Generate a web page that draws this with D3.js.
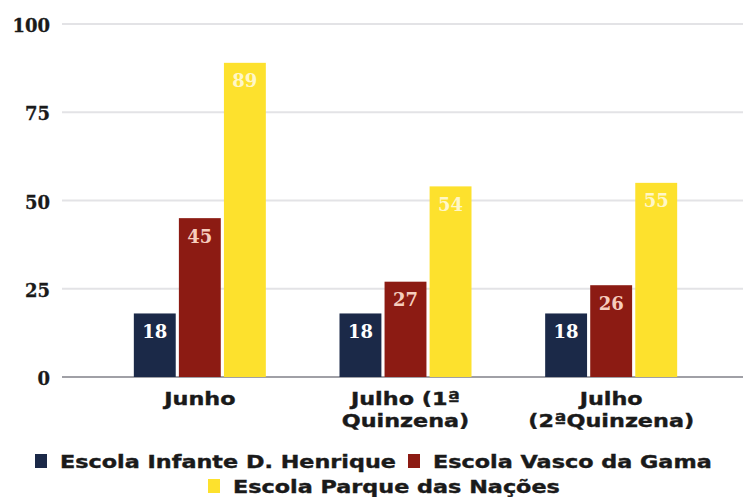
<!DOCTYPE html>
<html><head><meta charset="utf-8">
<script src="https://cdn.jsdelivr.net/npm/d3@7"></script>
<style>body{margin:0;background:#fff}svg{display:block}</style>
</head><body>
<script>
const categories = [["Junho"], ["Julho (1ª", "Quinzena)"], ["Julho", "(2ªQuinzena)"]];
const series = ["Escola Infante D. Henrique", "Escola Vasco da Gama", "Escola Parque das Nações"];
const henrique = [18, 18, 18];
const vasco = [45, 27, 26];
const parque = [89, 54, 55];
const yTicks = [0, 25, 50, 75, 100];
const colors = ["#1b2948", "#8c1b13", "#fde12d"];
const labelColors = ["#ffffff", "#f6cdbd", "#fff7c8"];

const W = 743, H = 497;
const STRETCH = 1.24;
const svg = d3.select("body").append("svg").attr("width", W).attr("height", H);
const values = [henrique, vasco, parque];
const catIdx = d3.range(categories.length);

const y = d3.scaleLinear().domain([0, 100]).range([377, 24]);
const x0 = d3.scaleBand().domain(catIdx).range([97, 714]).paddingInner(0).paddingOuter(0);
const innerW = 132;
const x1 = d3.scaleBand().domain(d3.range(series.length)).range([0, innerW]).paddingInner(0.07);

// grid
svg.append("g").selectAll("line").data(yTicks.filter(d => d > 0)).join("line")
  .attr("x1", 62).attr("x2", W).attr("y1", d => y(d)).attr("y2", d => y(d))
  .attr("stroke", "#e3e3e6").attr("stroke-width", 2);
svg.append("line").attr("x1", 62).attr("x2", W).attr("y1", y(0)).attr("y2", y(0))
  .attr("stroke", "#a0a0a6").attr("stroke-width", 2);

// y labels
svg.append("g").selectAll("text").data(yTicks).join("text")
  .attr("x", 50).attr("y", d => y(d) + 8).attr("text-anchor", "end")
  .attr("font-family", "DejaVu Serif").attr("font-weight", "bold").attr("font-size", 18)
  .attr("fill", "#1a1a1a").attr("stroke", "#1a1a1a").attr("stroke-width", 0.3).text(d => d);

// bars
const groups = svg.append("g").selectAll("g").data(catIdx).join("g")
  .attr("transform", i => `translate(${x0(i) + (x0.bandwidth() - innerW) / 2},0)`);
groups.selectAll("rect").data(i => values.map((v, s) => ({s, v: v[i]}))).join("rect")
  .attr("x", d => x1(d.s)).attr("width", x1.bandwidth())
  .attr("y", d => y(d.v)).attr("height", d => y(0) - y(d.v))
  .attr("fill", d => colors[d.s]);
groups.selectAll("text").data(i => values.map((v, s) => ({s, v: v[i]}))).join("text")
  .attr("x", d => x1(d.s) + x1.bandwidth() / 2).attr("y", d => y(d.v) + 24.5)
  .attr("text-anchor", "middle").attr("font-family", "DejaVu Serif").attr("font-weight", "bold")
  .attr("font-size", 18).attr("fill", d => labelColors[d.s]).text(d => d.v);

// category labels
const catLines = [];
catIdx.forEach(i => categories[i].forEach((t, k) => catLines.push({i, k, t})));
svg.append("g").selectAll("text").data(catLines).join("text")
  .attr("transform", d => `translate(${x0(d.i) + x0.bandwidth() / 2},${405 + d.k * 22}) scale(${STRETCH},1)`)
  .attr("text-anchor", "middle").attr("font-family", "DejaVu Sans").attr("font-weight", "bold")
  .attr("font-size", 18).attr("fill", "#1a1a1a").attr("stroke", "#1a1a1a").attr("stroke-width", 0.4)
  .text(d => d.t);

// legend
const legendPos = [{x: 35, y: 468}, {x: 408, y: 468}, {x: 208, y: 493}];
const lg = svg.append("g").selectAll("g").data(series).join("g")
  .attr("transform", (d, i) => `translate(${legendPos[i].x},${legendPos[i].y})`);
lg.append("rect").attr("x", 0).attr("y", -14).attr("width", 12).attr("height", 14)
  .attr("fill", (d, i) => colors[i]);
lg.append("text").attr("transform", `translate(25,0) scale(${STRETCH},1)`).attr("font-family", "DejaVu Sans")
  .attr("font-weight", "bold").attr("font-size", 18).attr("fill", "#1a1a1a")
  .attr("stroke", "#1a1a1a").attr("stroke-width", 0.4).text(d => d);
</script>
</body></html>
